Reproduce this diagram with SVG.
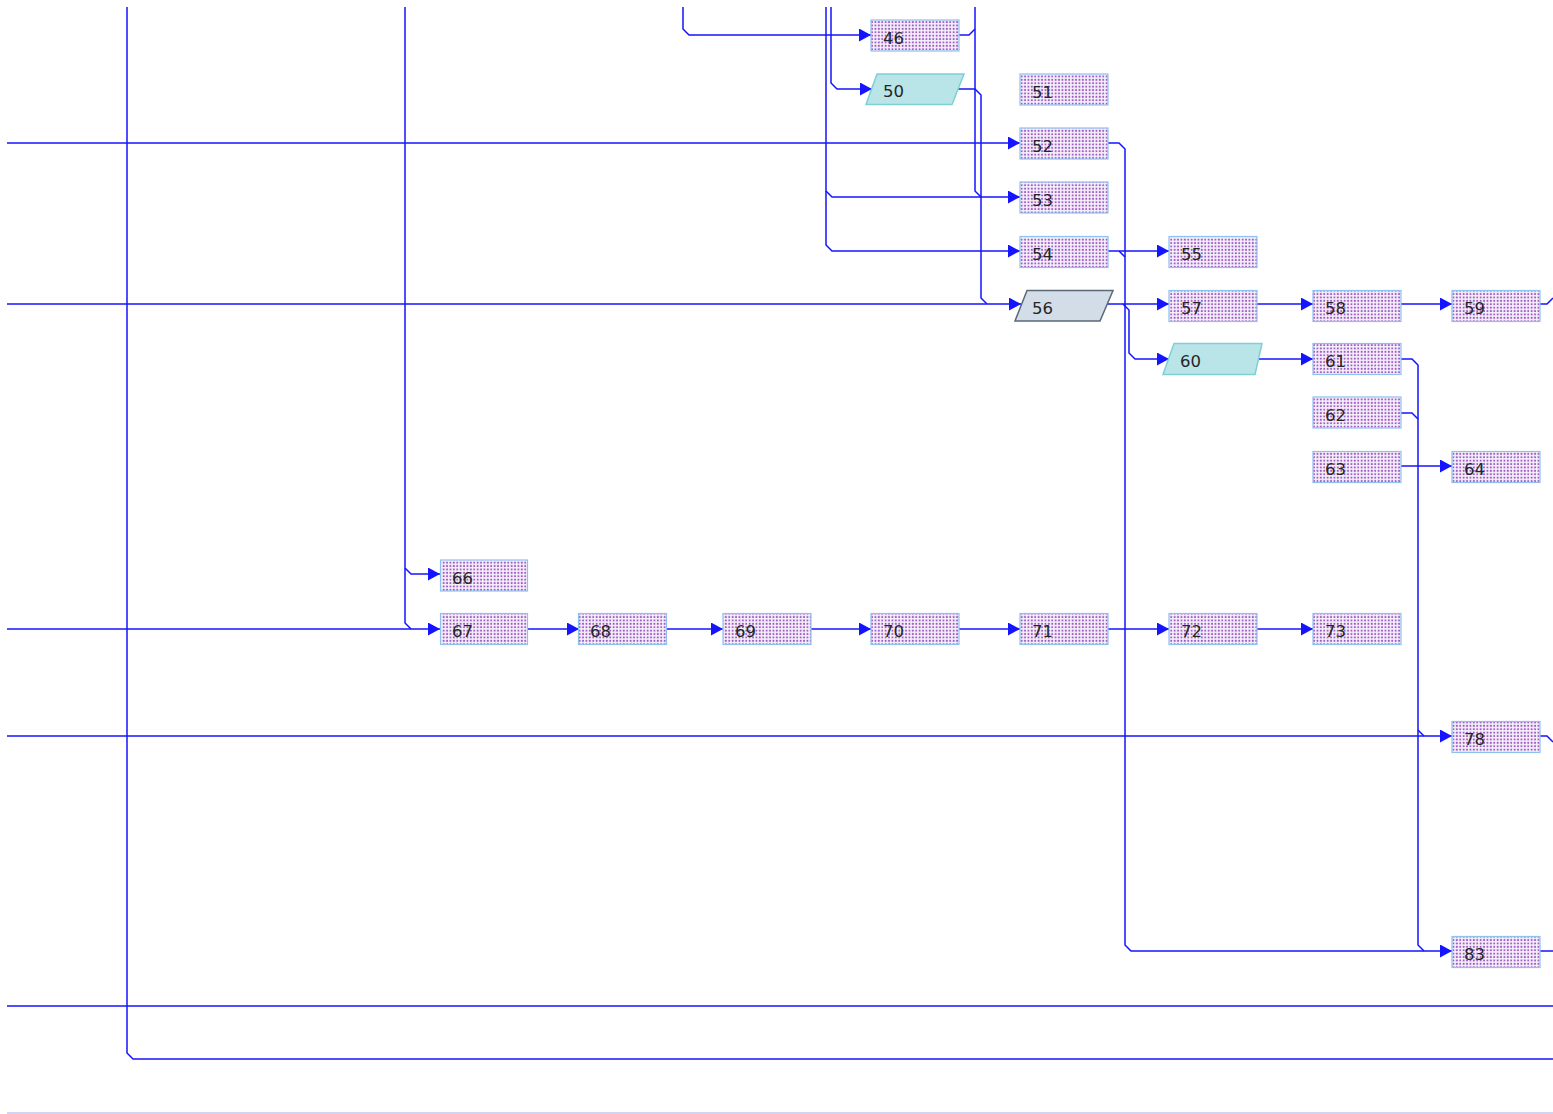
<svg xmlns="http://www.w3.org/2000/svg" width="1553" height="1114" viewBox="0 0 1553 1114">
<defs>
<pattern id="dots" width="3.4" height="3.4" patternUnits="userSpaceOnUse">
<rect width="3.4" height="3.4" fill="#f6f0fa"/>
<rect x="0.7" y="0.7" width="1.8" height="1.8" fill="#9a58c2"/>
</pattern>
<marker id="arr" markerUnits="userSpaceOnUse" markerWidth="12" markerHeight="13" refX="12" refY="6.5" orient="auto">
<path d="M0,0 L12,6.5 L0,13 Z" fill="#1414ff"/>
</marker>
<style>
.n rect{fill:url(#dots);stroke:#8fc0f0;stroke-width:1.2}
.t{font-family:"DejaVu Sans",Verdana,sans-serif;font-size:16.5px;fill:#262626}
.pc{fill:#b9e5e9;stroke:#7fcfd7;stroke-width:1.5}
.ps{fill:#d3dde8;stroke:#5b6878;stroke-width:1.5}
#edges path{fill:none;stroke:#1414ff;stroke-width:1.5}
#edges path.a{marker-end:url(#arr)}
</style>
</defs>
<rect width="1553" height="1114" fill="#ffffff"/>
<g id="edges">
<path d="M127,7 V1053 L133,1059 H1553"/>
<path class="a" d="M405,7 V568 L411,574 H440"/>
<path d="M405,568 V623 L411,629"/>
<path class="a" d="M7,629 H440"/>
<path class="a" d="M683,7 V29 L689,35 H871"/>
<path class="a" d="M826,7 V191 L832,197 H1020"/>
<path class="a" d="M826,191 V245 L832,251 H1020"/>
<path class="a" d="M831,7 V83 L837,89 H872"/>
<path d="M959,35 H969 L975,29"/>
<path d="M975,7 V191 L981,197"/>
<path d="M958,89 H975 L981,95 V298 L987,304"/>
<path class="a" d="M7,304 H1021"/>
<path class="a" d="M7,143 H1020"/>
<path class="a" d="M1108,143 H1119 L1125,149 V945 L1131,951 H1452"/>
<path class="a" d="M1108,251 H1169"/>
<path d="M1119,251 L1125,257"/>
<path class="a" d="M1104,304 H1169"/>
<path class="a" d="M1123,304 L1129,310 V353 L1135,359 H1169"/>
<path class="a" d="M1257,304 H1313"/>
<path class="a" d="M1401,304 H1452"/>
<path d="M1540,304 H1547 L1553,298"/>
<path class="a" d="M1258,359 H1313"/>
<path d="M1401,359 H1412 L1418,365 V945 L1424,951"/>
<path d="M1401,413 H1412 L1418,419"/>
<path d="M1418,730 L1424,736"/>
<path class="a" d="M1401,466 H1452"/>
<path class="a" d="M7,736 H1452"/>
<path d="M1540,736 H1547 L1553,742"/>
<path class="a" d="M527,629 H579"/>
<path class="a" d="M666,629 H723"/>
<path class="a" d="M811,629 H871"/>
<path class="a" d="M959,629 H1020"/>
<path class="a" d="M1108,629 H1169"/>
<path class="a" d="M1257,629 H1313"/>
<path d="M1540,951 H1553"/>
<path d="M7,1006 H1553"/>
<path d="M7,1113 H1553" style="stroke:#a8a8f2;stroke-width:1.2"/>
</g>
<g id="n46" class="n"><rect x="871" y="20" width="88" height="31"/><text class="t" x="883" y="43.5">46</text></g>
<g id="n50"><polygon class="pc" points="877,74 964,74 952,104.5 866,104.5"/><text class="t" x="883" y="97">50</text></g>
<g id="n51" class="n"><rect x="1020" y="74" width="88" height="31"/><text class="t" x="1032" y="97.5">51</text></g>
<g id="n52" class="n"><rect x="1020" y="128" width="88" height="31"/><text class="t" x="1032" y="151.5">52</text></g>
<g id="n53" class="n"><rect x="1020" y="182" width="88" height="31"/><text class="t" x="1032" y="205.5">53</text></g>
<g id="n54" class="n"><rect x="1020" y="236.5" width="88" height="31"/><text class="t" x="1032" y="260">54</text></g>
<g id="n55" class="n"><rect x="1169" y="236.5" width="88" height="31"/><text class="t" x="1181" y="260">55</text></g>
<g id="n56"><polygon class="ps" points="1027,290.5 1113,290.5 1100,321 1015,321"/><text class="t" x="1032" y="313.5">56</text></g>
<g id="n57" class="n"><rect x="1169" y="290.5" width="88" height="31"/><text class="t" x="1181" y="314">57</text></g>
<g id="n58" class="n"><rect x="1313" y="290.5" width="88" height="31"/><text class="t" x="1325" y="314">58</text></g>
<g id="n59" class="n"><rect x="1452" y="290.5" width="88" height="31"/><text class="t" x="1464" y="314">59</text></g>
<g id="n60"><polygon class="pc" points="1174,343.5 1262,343.5 1255,374.5 1163,374.5"/><text class="t" x="1180" y="367">60</text></g>
<g id="n61" class="n"><rect x="1313" y="343.5" width="88" height="31"/><text class="t" x="1325" y="367">61</text></g>
<g id="n62" class="n"><rect x="1313" y="397" width="88" height="31"/><text class="t" x="1325" y="420.5">62</text></g>
<g id="n63" class="n"><rect x="1313" y="451.5" width="88" height="31"/><text class="t" x="1325" y="475">63</text></g>
<g id="n64" class="n"><rect x="1452" y="451.5" width="88" height="31"/><text class="t" x="1464" y="475">64</text></g>
<g id="n66" class="n"><rect x="440.5" y="560" width="87" height="31"/><text class="t" x="452" y="583.5">66</text></g>
<g id="n67" class="n"><rect x="440.5" y="613.5" width="87" height="31"/><text class="t" x="452" y="637">67</text></g>
<g id="n68" class="n"><rect x="578.5" y="613.5" width="88" height="31"/><text class="t" x="590" y="637">68</text></g>
<g id="n69" class="n"><rect x="723" y="613.5" width="88" height="31"/><text class="t" x="735" y="637">69</text></g>
<g id="n70" class="n"><rect x="871" y="613.5" width="88" height="31"/><text class="t" x="883" y="637">70</text></g>
<g id="n71" class="n"><rect x="1020" y="613.5" width="88" height="31"/><text class="t" x="1032" y="637">71</text></g>
<g id="n72" class="n"><rect x="1169" y="613.5" width="88" height="31"/><text class="t" x="1181" y="637">72</text></g>
<g id="n73" class="n"><rect x="1313" y="613.5" width="88" height="31"/><text class="t" x="1325" y="637">73</text></g>
<g id="n78" class="n"><rect x="1452" y="721.5" width="88" height="31"/><text class="t" x="1464" y="745">78</text></g>
<g id="n83" class="n"><rect x="1452" y="936.5" width="88" height="31"/><text class="t" x="1464" y="960">83</text></g>
</svg>
